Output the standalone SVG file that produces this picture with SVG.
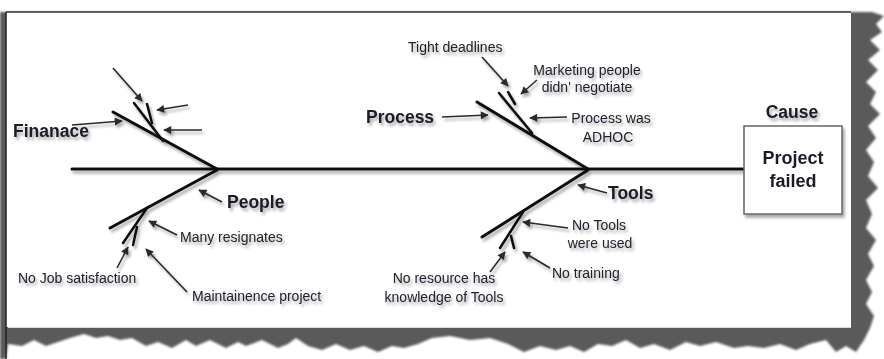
<svg xmlns="http://www.w3.org/2000/svg" width="884" height="359" viewBox="0 0 884 359">
<defs>
<filter id="sh" x="-20%" y="-20%" width="140%" height="140%">
<feGaussianBlur in="SourceAlpha" stdDeviation="1.6"/>
<feOffset dx="2" dy="2.5" result="b"/>
<feComponentTransfer><feFuncA type="linear" slope="0.35"/></feComponentTransfer>
<feMerge><feMergeNode/><feMergeNode in="SourceGraphic"/></feMerge>
</filter>
<filter id="edge" x="-5%" y="-5%" width="110%" height="110%">
<feGaussianBlur stdDeviation="0.8"/>
</filter>
<marker id="ah" viewBox="0 0 10 10" refX="9" refY="5" markerWidth="9" markerHeight="8" markerUnits="userSpaceOnUse" orient="auto">
<path d="M0,0 L10,5 L0,10 Z" fill="#2a2a2a"/>
</marker>
</defs>
<style>
.bone{stroke:#111;stroke-width:3;stroke-linecap:round;fill:none}
.sub{stroke:#111;stroke-width:2.5;stroke-linecap:round;fill:none}
.arr{stroke:#2a2a2a;stroke-width:1.6;fill:none;marker-end:url(#ah)}
.lbl{font-family:"Liberation Sans",Arial,sans-serif;font-size:14px;fill:#24222e}
.big{font-family:"Liberation Sans",Arial,sans-serif;font-size:17.5px;font-weight:bold;fill:#1c1a26}
</style>
<rect width="884" height="359" fill="#ffffff"/>
<path filter="url(#edge)" fill="#5a5a5a" d="M6,12 L872,12 L884,16 L876,24 L882,32 L870,40 L880,50 L868,60 L878,70 L866,82 L876,92 L870,104 L880,114 L868,126 L876,138 L866,150 L874,162 L868,176 L878,188 L866,200 L872,214 L866,228 L876,240 L868,254 L874,266 L866,280 L872,292 L866,304 L874,316 L870,328 L864,340 L856,352 L846,346 L836,352 L826,340 L810,344 L796,350 L780,344 L764,348 L748,346 L734,348 L716,342 L700,346 L686,342 L670,350 L654,344 L640,348 L626,340 L612,346 L598,344 L584,352 L570,346 L556,350 L540,346 L524,352 L508,344 L490,338 L470,340 L450,336 L432,338 L418,344 L404,348 L392,346 L378,352 L364,346 L350,350 L336,344 L322,350 L308,346 L296,338 L288,344 L278,348 L262,340 L246,346 L238,342 L226,348 L210,340 L196,346 L186,340 L172,348 L158,342 L146,346 L132,338 L120,340 L108,336 L96,338 L84,334 L70,338 L58,342 L46,346 L34,340 L22,346 L8,344 L6,359 L0,359 L0,12 Z"/>
<rect x="6" y="12" width="845" height="315" fill="#ffffff"/>
<line x1="6" y1="12" x2="851" y2="12" stroke="#333" stroke-width="1.5"/>
<line x1="6" y1="12" x2="6" y2="359" stroke="#222" stroke-width="1.5"/>
<line x1="8" y1="327.5" x2="851" y2="327.5" stroke="#d8d8d8" stroke-width="1"/>

<g id="connectors" filter="url(#sh)">
<line class="bone" x1="72" y1="169" x2="743" y2="169"/>
<line class="bone" x1="217" y1="169" x2="113" y2="112"/>
<line class="sub" x1="134" y1="103" x2="163" y2="141"/>
<line class="sub" x1="147" y1="104" x2="152" y2="123"/>
<line class="bone" x1="217" y1="170" x2="110" y2="228"/>
<line class="sub" x1="147" y1="208" x2="123" y2="243"/>
<line class="sub" x1="137" y1="227" x2="133" y2="245"/>
<line class="bone" x1="588" y1="169" x2="477" y2="102"/>
<line class="sub" x1="499" y1="93" x2="532" y2="133"/>
<line class="sub" x1="508" y1="92" x2="515" y2="104"/>
<line class="bone" x1="588" y1="170" x2="482" y2="237"/>
<line class="sub" x1="523" y1="212" x2="500" y2="248"/>
<line class="sub" x1="511" y1="236" x2="514" y2="248"/>
<line class="arr" x1="113" y1="68" x2="142" y2="101"/>
<line class="arr" x1="188" y1="105" x2="157" y2="110"/>
<line class="arr" x1="202" y1="130" x2="164" y2="130"/>
<line class="arr" x1="72" y1="125" x2="122" y2="121"/>
<line class="arr" x1="222" y1="202" x2="199" y2="190"/>
<line class="arr" x1="177" y1="235" x2="149" y2="221"/>
<line class="arr" x1="117" y1="268" x2="128" y2="247"/>
<line class="arr" x1="187" y1="292" x2="146" y2="249"/>
<line class="arr" x1="482" y1="57" x2="508" y2="86"/>
<line class="arr" x1="537" y1="80" x2="521" y2="94"/>
<line class="arr" x1="567" y1="117" x2="530" y2="118"/>
<line class="arr" x1="442" y1="117" x2="488" y2="115"/>
<line class="arr" x1="607" y1="193" x2="578" y2="185"/>
<line class="arr" x1="568" y1="228" x2="523" y2="222"/>
<line class="arr" x1="550" y1="268" x2="523" y2="252"/>
<line class="arr" x1="490" y1="272" x2="505" y2="252"/>
</g>

<g id="effect" filter="url(#sh)">
<text class="big" x="792" y="118" text-anchor="middle" font-size="16.5">Cause</text>
<rect x="744" y="126" width="98" height="88" fill="#ffffff" stroke="#666" stroke-width="1.5"/>
<text class="big" x="793" y="164" text-anchor="middle" style="font-size:18px">Project</text>
<text class="big" x="793" y="187" text-anchor="middle" style="font-size:18px">failed</text>
</g>

<g id="finance" filter="url(#sh)">
<text class="big" x="13" y="137">Finanace</text>
</g>

<g id="people" filter="url(#sh)">
<text class="big" x="227" y="208">People</text>
<text class="lbl" x="180" y="242">Many resignates</text>
<text class="lbl" x="18" y="283">No Job satisfaction</text>
<text class="lbl" x="192" y="301">Maintainence project</text>
</g>

<g id="process" filter="url(#sh)">
<text class="big" x="366" y="123">Process</text>
<text class="lbl" x="408" y="52">Tight deadlines</text>
<text class="lbl" x="587" y="75" text-anchor="middle">Marketing people</text>
<text class="lbl" x="587" y="92" text-anchor="middle">didn' negotiate</text>
<text class="lbl" x="611" y="123" text-anchor="middle">Process was</text>
<text class="lbl" x="608" y="142" text-anchor="middle">ADHOC</text>
</g>

<g id="tools" filter="url(#sh)">
<text class="big" x="608" y="199">Tools</text>
<text class="lbl" x="599" y="230" text-anchor="middle">No Tools</text>
<text class="lbl" x="600" y="248" text-anchor="middle">were used</text>
<text class="lbl" x="552" y="278">No training</text>
<text class="lbl" x="444" y="283" text-anchor="middle">No resource has</text>
<text class="lbl" x="444" y="302" text-anchor="middle">knowledge of Tools</text>
</g>
</svg>
